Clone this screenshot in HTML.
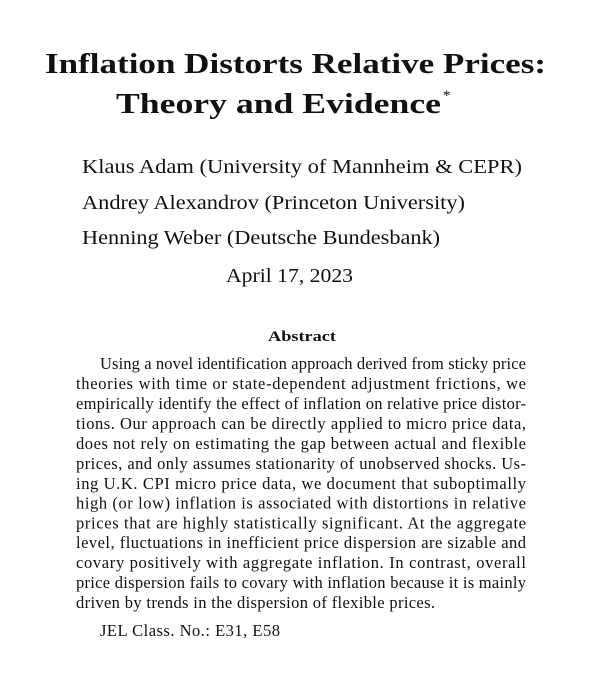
<!DOCTYPE html>
<html><head><meta charset="utf-8"><style>
html,body{margin:0;padding:0;background:#fff;}
svg{display:block;}
text{font-family:"Liberation Serif",serif;fill:#111;}
</style></head><body>
<svg width="598" height="684" viewBox="0 0 598 684">
<text x="45" y="73" font-size="29" font-weight="bold" font-family="Liberation Serif, serif" textLength="501" lengthAdjust="spacingAndGlyphs">Inflation Distorts Relative Prices:</text>
<text x="116" y="113" font-size="29" font-weight="bold" font-family="Liberation Serif, serif" textLength="325" lengthAdjust="spacingAndGlyphs">Theory and Evidence</text>
<text x="443" y="100" font-size="15">*</text>
<text x="82" y="173" font-size="20" textLength="440" lengthAdjust="spacingAndGlyphs">Klaus Adam (University of Mannheim &amp; CEPR)</text>
<text x="82" y="209" font-size="20" textLength="383" lengthAdjust="spacingAndGlyphs">Andrey Alexandrov (Princeton University)</text>
<text x="82" y="244" font-size="20" textLength="358" lengthAdjust="spacingAndGlyphs">Henning Weber (Deutsche Bundesbank)</text>
<text x="226" y="282" font-size="20" textLength="127" lengthAdjust="spacingAndGlyphs">April 17, 2023</text>
<text x="268" y="341" font-size="15" font-weight="bold" textLength="68" lengthAdjust="spacingAndGlyphs">Abstract</text>
<g>
<text x="100" y="369" font-size="16.5" textLength="426" lengthAdjust="spacing">Using a novel identification approach derived from sticky price</text>
<text x="76" y="389" font-size="16.5" textLength="450" lengthAdjust="spacing">theories with time or state-dependent adjustment frictions, we</text>
<text x="76" y="409" font-size="16.5" textLength="450" lengthAdjust="spacing">empirically identify the effect of inflation on relative price distor-</text>
<text x="76" y="429" font-size="16.5" textLength="450" lengthAdjust="spacing">tions. Our approach can be directly applied to micro price data,</text>
<text x="76" y="449" font-size="16.5" textLength="450" lengthAdjust="spacing">does not rely on estimating the gap between actual and flexible</text>
<text x="76" y="469" font-size="16.5" textLength="450" lengthAdjust="spacing">prices, and only assumes stationarity of unobserved shocks. Us-</text>
<text x="76" y="489" font-size="16.5" textLength="450" lengthAdjust="spacing">ing U.K. CPI micro price data, we document that suboptimally</text>
<text x="76" y="508.5" font-size="16.5" textLength="450" lengthAdjust="spacing">high (or low) inflation is associated with distortions in relative</text>
<text x="76" y="528.5" font-size="16.5" textLength="450" lengthAdjust="spacing">prices that are highly statistically significant. At the aggregate</text>
<text x="76" y="548" font-size="16.5" textLength="450" lengthAdjust="spacing">level, fluctuations in inefficient price dispersion are sizable and</text>
<text x="76" y="568" font-size="16.5" textLength="450" lengthAdjust="spacing">covary positively with aggregate inflation. In contrast, overall</text>
<text x="76" y="588" font-size="16.5" textLength="450" lengthAdjust="spacing">price dispersion fails to covary with inflation because it is mainly</text>
<text x="76" y="608" font-size="16.5" textLength="359" lengthAdjust="spacing">driven by trends in the dispersion of flexible prices.</text>
</g>
<text x="100" y="636" font-size="16.5" textLength="180" lengthAdjust="spacing">JEL Class. No.: E31, E58</text>
</svg>
</body></html>
